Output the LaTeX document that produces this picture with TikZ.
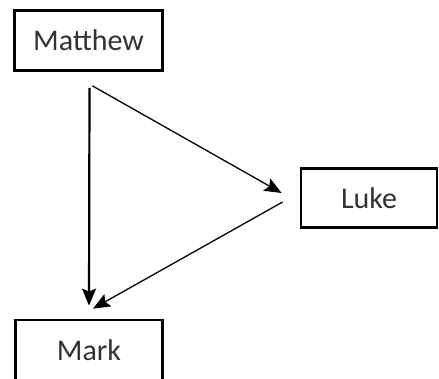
\documentclass[tikz,border=0pt]{standalone}
\usepackage{fontspec}
\setmainfont{Carlito}
\usetikzlibrary{arrows.meta}
\begin{document}
\begin{tikzpicture}[x=1pt,y=-1pt,
  box/.style={draw=black,line width=2.8pt,fill=white,inner sep=0pt,
    font=\fontsize{30}{34}\selectfont,text=black!80},
  arr/.style={-{Stealth[length=17pt,width=14pt,inset=3pt]},black}]
\useasboundingbox (0,0) rectangle (439,379);
\node[box,minimum width=148pt,minimum height=60pt] (matthew) at (88.5,40.5) {Matthew};
\node[box,minimum width=136pt,minimum height=59pt] (luke) at (369,198) {Luke};
\node[box,minimum width=147pt,minimum height=60pt] (mark) at (89,350) {Mark};
\draw[arr,line width=2.2pt] ([shift={(1,16)}]matthew.south) -- ([shift={(0,-13)}]mark.north);
\draw[arr,line width=1.3pt] ([shift={(4,14)}]matthew.south) -- ([shift={(-18,-5)}]luke.west);
\draw[arr,line width=1.3pt] ([shift={(-17,4)}]luke.west) -- ([shift={(4,-10)}]mark.north);
\end{tikzpicture}
\end{document}
